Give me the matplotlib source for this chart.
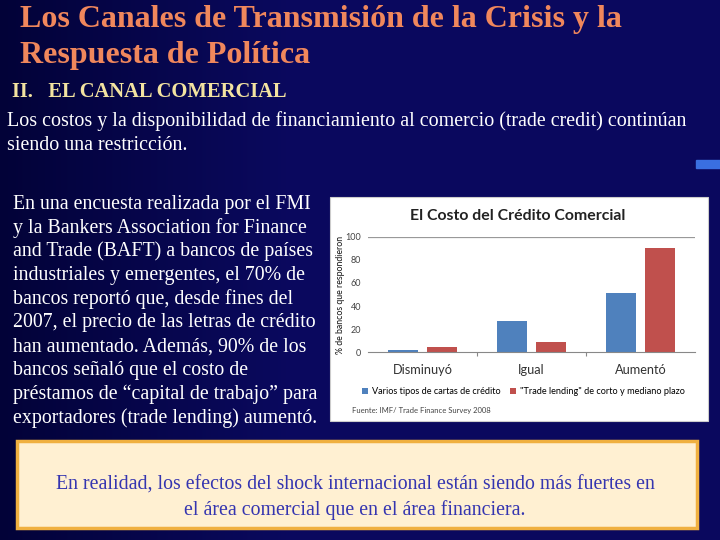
import numpy as np
import matplotlib
matplotlib.use("Agg")
import matplotlib.pyplot as plt
from matplotlib.patches import Rectangle

# chart data
categories = ["Disminuyó", "Igual", "Aumentó"]
cartas_credito = [2, 27, 51]
trade_lending = [5, 9, 90]
series_names = ["Varios tipos de cartas de crédito",
                '"Trade lending" de corto y mediano plazo']
yticks = [0, 20, 40, 60, 80, 100]

title_lines = ["Los Canales de Transmisión de la Crisis y la",
               "Respuesta de Política"]
section = "II.   EL CANAL COMERCIAL"
intro_lines = ["Los costos y la disponibilidad de financiamiento al comercio (trade credit) continúan",
               "siendo una restricción."]
body_lines = ["En una encuesta realizada por el FMI",
              "y la Bankers Association for Finance",
              "and Trade (BAFT) a bancos de países",
              "industriales y emergentes, el 70% de",
              "bancos reportó que, desde fines del",
              "2007, el precio de las letras de crédito",
              "han aumentado. Además, 90% de los",
              "bancos señaló que el costo de",
              "préstamos de “capital de trabajo” para",
              "exportadores (trade lending) aumentó."]
box_lines = ["En realidad, los efectos del shock internacional están siendo más fuertes en",
             "el área comercial que en el área financiera."]

W, H = 720, 540
SERIF = "Liberation Serif"
SANS = "Lato"


def fx(x):
    return x / W


def fy(y):
    return 1 - y / H


fig = plt.figure(figsize=(7.2, 5.4), dpi=100)

# slide background
bg = fig.add_axes([0, 0, 1, 1])
grad = np.clip(np.linspace(0, 2.5, 256), 0, 1)
img = np.zeros((2, 256, 3))
for i, c0, c1 in [(0, 0.01, 0.04), (1, 0.01, 0.035), (2, 0.22, 0.37)]:
    img[:, :, i] = c0 + (c1 - c0) * grad
bg.imshow(img, extent=(0, 1, 0, 1), aspect="auto", zorder=0)
bg.add_patch(Rectangle((fx(696), fy(168)), fx(24), 8 / H, color="#3a6fe0", zorder=1))

# bottom box
bg.add_patch(Rectangle((fx(17), fy(528)), fx(680), (528 - 441) / H,
                       facecolor="#fff0d2", edgecolor="#f0b040", linewidth=2.5, zorder=2))
# white chart panel
bg.add_patch(Rectangle((fx(330), fy(421)), fx(378), (421 - 197) / H,
                       facecolor="white", edgecolor="#cccccc", linewidth=0.8, zorder=2))
bg.set_xlim(0, 1)
bg.set_ylim(0, 1)
bg.axis("off")

# title and text
for i, line in enumerate(title_lines):
    fig.text(fx(20), fy(19 + i * 37), line, fontsize=23, fontweight="bold",
             family=SERIF, color="#f0875c", va="center")
fig.text(fx(12), fy(92), section, fontsize=14.8, fontweight="bold",
         family=SERIF, color="#f3e3a0", va="center")
for i, line in enumerate(intro_lines):
    fig.text(fx(7), fy(121 + i * 24), line, fontsize=14.4,
             family=SERIF, color="white", va="center")
for i, line in enumerate(body_lines):
    fig.text(fx(13), fy(204 + i * 23.8), line, fontsize=14.3,
             family=SERIF, color="white", va="center")
for i, line in enumerate(box_lines):
    fig.text(fx(355), fy(485 + i * 25), line, fontsize=14.3, family=SERIF,
             color="#3535b0", ha="center", va="center")

# chart
ax = fig.add_axes([fx(368), fy(352.3), fx(695 - 368), (352.3 - 236.7) / H])
ax.set_facecolor("white")
x = np.arange(len(categories))
bw = 0.27
ax.bar(x - 0.18, cartas_credito, bw, color="#4f81bd", label=series_names[0])
ax.bar(x + 0.18, trade_lending, bw, color="#c0504d", label=series_names[1])
ax.set_xlim(-0.5, 2.5)
ax.set_ylim(0, 100)
ax.axhline(100, color="#999999", linewidth=0.9)
ax.set_yticks(yticks)
ax.set_yticklabels([str(t) for t in yticks], fontsize=6.5, color="#444444", family=SANS)
ax.tick_params(axis="y", length=0, pad=5)
ax.set_xticks([0.5, 1.5])
ax.set_xticklabels([])
ax.tick_params(axis="x", length=3, color="#888888", direction="out")
for i, c in enumerate(categories):
    ax.text(i, -15, c, ha="center", va="center", fontsize=9.2, color="#333333",
            family=SANS)
for s in ["top", "right", "left"]:
    ax.spines[s].set_visible(False)
ax.spines["bottom"].set_color("#888888")
ax.set_ylabel("% de bancos que respondieron", fontsize=6.3, family=SANS,
              color="#111111")
ax.yaxis.set_label_coords(-0.07, 0.5)

fig.text(fx(518), fy(216), "El Costo del Crédito Comercial", fontsize=11.4,
         fontweight="bold", family=SANS, color="#222222", ha="center", va="center")
ax.legend(loc="upper left", bbox_to_anchor=(-0.03, -0.27), ncol=2, frameon=False,
          handlelength=0.7, handleheight=0.7, handletextpad=0.4,
          columnspacing=1.0, borderaxespad=0, prop={"family": SANS, "size": 6.6})
fig.text(fx(352), fy(410), "Fuente: IMF/ Trade Finance Survey 2008", fontsize=5.5,
         family=SANS, color="#444444", va="center")

fig.savefig("out.png", dpi=100)
